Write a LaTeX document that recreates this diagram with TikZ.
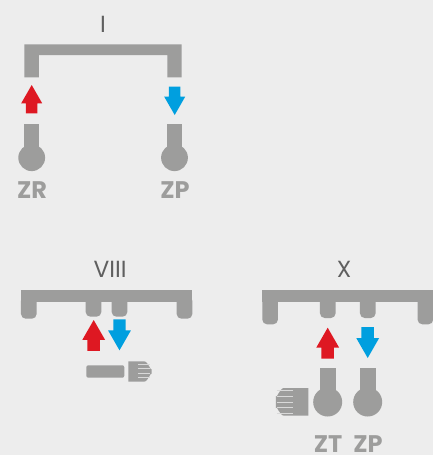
\documentclass[tikz,border=0pt]{standalone}
\usepackage{fontspec}
\setmainfont{Poppins}
\usepackage{xcolor}
\definecolor{pagegray}{RGB}{237,237,237}
\definecolor{pipegray}{RGB}{157,157,156}
\definecolor{titlegray}{RGB}{95,95,95}
\definecolor{flowred}{RGB}{222,24,34}
\definecolor{flowblue}{RGB}{0,159,223}
\tikzset{
    pipe/.style={fill=pipegray},
    title/.style={text=titlegray, font=\fontsize{17.5pt}{17.5pt}\selectfont, inner sep=0pt},
    tag/.style={text=pipegray, font=\fontsize{18pt}{18pt}\selectfont\bfseries, inner sep=0pt},
    ribline/.style={draw=pagegray!75!pipegray, line width=0.45pt}
}
% arrow with its tip at #3, drawn pointing up (#1=1) or down (#1=-1)
\newcommand{\flowarrow}[4]{\fill[#2, shift={(#3)}, yscale=#1, scale=#4]
    (0,0) -- (10.5,18.3) -- (5.7,18.3) -- (5.7,28.3) -- (-5.7,28.3) -- (-5.7,18.3) -- (-10.5,18.3) -- cycle;}
% leg hanging from a bar, rounded at its foot
\newcommand{\barleg}[3]{\fill[pipe, rounded corners=3.5pt] (#1,296) -- (#1+15.6,296) -- (#1+15.6,#2) -- (#1,#2) -- cycle;}
\begin{document}
\begin{tikzpicture}[x=0.75pt, y=-0.75pt]
    \useasboundingbox[fill=pagegray] (0,0) rectangle (433,455);

    % I
    \node[title] (title_one) at (103,24.5) {I};
    \fill[pipe] (24.3,77.3) -- (24.3,44.3) -- (181.7,44.3) -- (181.7,77.3) -- (167.3,77.3) -- (167.3,55) -- (39,55) -- (39,77.3) -- cycle;
    \flowarrow{1}{flowred}{31.7,85}{1}
    \flowarrow{-1}{flowblue}{174.7,115}{1}
    \fill[pipe] (24.3,124.3) rectangle (39,150);
    \fill[pipe] (167.3,124.3) rectangle (181.7,150);
    \fill[pipe] (31.7,157.7) circle (13.4);
    \fill[pipe] (174.5,157.7) circle (13.4);
    \node[tag] (tag_zr) at (32,190) {ZR};
    \node[tag] (tag_zp) at (175,190) {ZP};

    % VIII
    \node[title] (title_eight) at (110,269.5) {VIII};
    \fill[pipe] (21,290) rectangle (192.3,301.7);
    \barleg{21}{318.7}{}
    \barleg{85.7}{316.7}{}
    \barleg{111.7}{316.7}{}
    \barleg{176.7}{318.7}{}
    \flowarrow{1}{flowred}{93.7,320}{1.09}
    \flowarrow{-1}{flowblue}{119.5,350.3}{1.09}
    \fill[pipe, rounded corners=1.5pt] (86.3,365.3) rectangle (124.3,377.7);
    \fill[pipe] (128.3,361.3) -- (144,361.3) to[out=0, in=-90] (151.7,369) -- (151.7,374) to[out=90, in=0] (144,381.7) -- (128.3,381.7) -- cycle;
    \foreach \y in {364,368.5,373,377.5}
        \draw[ribline] (138.5,\y) -- (150.5,\y);

    % X
    \node[title] (title_ten) at (344,269.5) {X};
    \fill[pipe] (262.3,290) rectangle (433,302);
    \barleg{262.3}{324.3}{}
    \barleg{320}{318}{}
    \barleg{360}{318}{}
    \barleg{417.6}{324.3}{}
    \flowarrow{1}{flowred}{327.7,327.7}{1.09}
    \flowarrow{-1}{flowblue}{367.7,358}{1.09}
    \fill[pipe] (320,368) rectangle (335.7,395);
    \fill[pipe] (360,368) rectangle (375.7,395);
    \fill[pipe] (327.7,402) circle (14.5);
    \fill[pipe] (367.7,402) circle (14.5);
    \fill[pipe] (308.3,388) -- (284,388) to[out=180, in=-90] (276,396) -- (276,408) to[out=90, in=180] (284,415.7) -- (308.3,415.7) -- cycle;
    \foreach \y in {390.5,396,402,407.5,413}
        \draw[ribline] (277,\y) -- (293.5,\y);
    \node[tag] (tag_zt) at (328,444) {ZT};
    \node[tag] (tag_zpx) at (368,444) {ZP};
\end{tikzpicture}
\end{document}
